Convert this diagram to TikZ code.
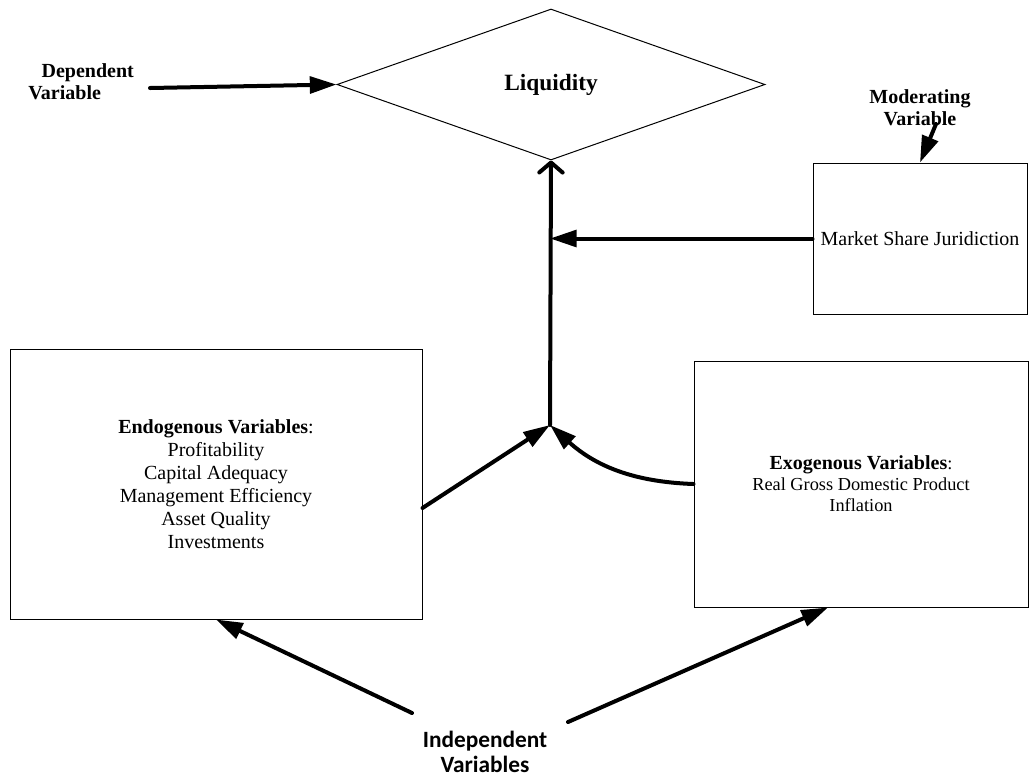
\documentclass[tikz,border=0pt]{standalone}
\usepackage{fontspec}
\setmainfont{Liberation Serif}
\newfontfamily\carlito{Carlito}
\usetikzlibrary{arrows.meta, positioning, shapes.geometric}

\begin{document}
\begin{tikzpicture}[x=0.6pt, y=-0.6pt, box/.style={draw, line width=0.6pt, align=center, inner sep=0pt, font=\fontsize{12}{13.8}\selectfont}, lbl/.style={align=center, inner sep=0pt, font=\fontsize{12}{13.2}\selectfont\bfseries}, arrow/.style={-{Triangle[length=16pt, width=10pt]}, line width=2.4pt, line cap=round}]
\useasboundingbox (0,0) rectangle (1029,776);
\node[draw, diamond, line width=0.6pt, minimum width=256.8pt, minimum height=90.6pt, inner sep=0pt, font=\fontsize{14}{16}\selectfont\bfseries] (liq) at (551,84.5) {Liquidity};
\node[lbl, align=left, anchor=west] (deplbl) at (28,82) {\hspace*{8pt}Dependent\\Variable};
\node[box, minimum width=128.4pt, minimum height=90.6pt] (mod) at (920,238.5) {Market Share Juridiction};
\node[lbl, above=22pt of mod] (modlbl) {Moderating\\Variable};
\node[box, minimum width=247.2pt, minimum height=162pt] (endo) at (216,484) {\textbf{Endogenous Variables}:\\Profitability\\Capital Adequacy\\Management Efficiency\\Asset Quality\\Investments};
\node[box, minimum width=200.4pt, minimum height=147.6pt, font=\fontsize{11}{12.6}\selectfont] (exo) at (861,484) {\textbf{\fontsize{12}{12.6}\selectfont Exogenous Variables}:\\Real Gross Domestic Product\\Inflation};
\node[align=center, inner sep=0pt, font=\carlito\bfseries\fontsize{14}{15}\selectfont] (indep) at (485,752) {Independent\\Variables};
\coordinate (junc) at (550,425);
\coordinate (deptail) at (150,88);
\coordinate (modtail) at (936,124);
\coordinate (lefttail) at (412,713);
\coordinate (righttail) at (568,722);
% arrows into liquidity
\draw[arrow] (deptail) -- (liq.west);
\draw[line width=2.4pt, line cap=round, -{Straight Barb[length=6pt, width=14pt, round]}] (junc) -- (liq.south);
\draw[arrow] (modtail) -- (mod.north);
\draw[arrow] (mod.west) -- (mod.west -| junc);
\draw[arrow] ([yshift=-14.4pt]endo.east) -- (junc);
\draw[arrow] (exo.west) to[out=178, in=-42] (junc);
% independent variables
\draw[arrow] (lefttail) -- (endo.south);
\draw[arrow] (righttail) -- ([xshift=-19.8pt]exo.south);
\end{tikzpicture}
\end{document}
